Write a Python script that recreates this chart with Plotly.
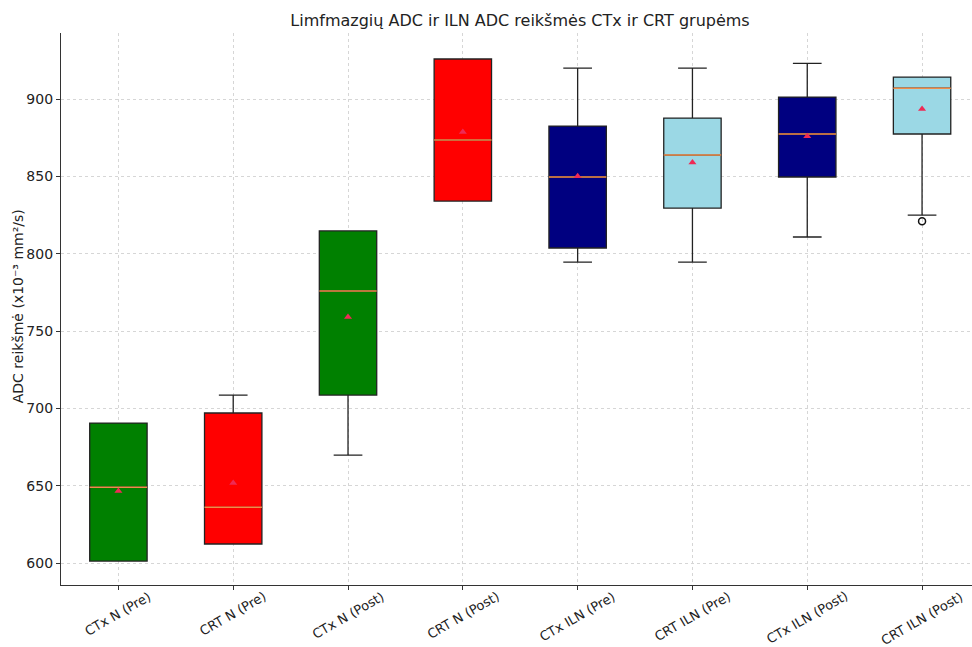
import plotly.graph_objects as go

# Group labels and box statistics (ADC, x10^-3 mm^2/s)
categories = ["CTx N (Pre)", "CRT N (Pre)", "CTx N (Post)", "CRT N (Post)",
              "CTx ILN (Pre)", "CRT ILN (Pre)", "CTx ILN (Post)", "CRT ILN (Post)"]
q1_vals = [601.3, 612.3, 708.6, 834.0, 803.7, 829.5, 849.6, 877.4]
median_vals = [649.0, 636.0, 775.9, 873.5, 849.6, 863.8, 877.4, 907.0]
q3_vals = [690.5, 697.0, 814.7, 925.9, 882.5, 887.7, 901.3, 914.2]
low_whisker = [601.3, 612.3, 669.8, 834.0, 794.6, 794.6, 810.8, 825.0]
high_whisker = [690.5, 708.6, 814.7, 925.9, 920.0, 920.0, 923.0, 914.2]
mean_vals = [646.6, 651.7, 759.0, 878.7, 850.0, 859.0, 876.0, 893.5]
outliers = {"CRT ILN (Post)": [821.0]}
box_colors = ["#008000", "#ff0000", "#008000", "#ff0000",
              "#000080", "#9bd8e5", "#000080", "#9bd8e5"]
y_ticks = [600, 650, 700, 750, 800, 850, 900]

positions = list(range(1, len(categories) + 1))
BOX_W = 0.5

fig = go.Figure()

for pos, name, q1, med, q3, lo, hi, col in zip(positions, categories, q1_vals, median_vals,
                                               q3_vals, low_whisker, high_whisker, box_colors):
    fig.add_trace(go.Box(
        x=[pos], q1=[q1], median=[med], q3=[q3],
        lowerfence=[lo], upperfence=[hi],
        width=BOX_W, whiskerwidth=0.5,
        fillcolor=col, line=dict(color="#222222", width=1.3),
        boxpoints=False, name=name, showlegend=False, hoverinfo="skip",
    ))

# Median lines in orange across each box
med_x, med_y = [], []
for pos, med in zip(positions, median_vals):
    med_x += [pos - BOX_W / 2, pos + BOX_W / 2, None]
    med_y += [med, med, None]
fig.add_trace(go.Scatter(x=med_x, y=med_y, mode="lines",
                         line=dict(color="#f08c4a", width=1.5),
                         showlegend=False, hoverinfo="skip"))

# Means as triangles
fig.add_trace(go.Scatter(x=positions, y=mean_vals, mode="markers",
                         marker=dict(symbol="triangle-up", size=7, color="#ee2a55"),
                         showlegend=False))

# Outliers as open circles
out_x, out_y = [], []
for name, vals in outliers.items():
    p = positions[categories.index(name)]
    out_x += [p] * len(vals)
    out_y += vals
fig.add_trace(go.Scatter(x=out_x, y=out_y, mode="markers",
                         marker=dict(symbol="circle-open", size=7,
                                     color="#111111", line=dict(width=1.5)),
                         showlegend=False))

# Rotated category labels centred under each tick
for pos, name in zip(positions, categories):
    fig.add_annotation(x=pos, xref="x", y=0, yref="paper",
                       text=name, showarrow=False, textangle=-30,
                       xanchor="center", yanchor="top", yshift=-1,
                       font=dict(size=13, color="#222222"))

# Y-axis title
fig.add_annotation(x=0, xref="paper", xshift=-43, y=0.505, yref="paper",
                   text="ADC reikšmė (x10⁻³ mm²/s)", showarrow=False, textangle=-90,
                   xanchor="center", yanchor="middle",
                   font=dict(size=14, color="#222222"))

grid_style = dict(showgrid=True, gridcolor="#d6d6d6", griddash="3px,3px", gridwidth=1)

fig.update_layout(
    width=972, height=647,
    margin=dict(l=61, r=0, t=33, b=62),
    paper_bgcolor="white", plot_bgcolor="white",
    font=dict(family="DejaVu Sans", size=14, color="#222222"),
    title=dict(text="Limfmazgių ADC ir ILN ADC reikšmės CTx ir CRT grupėms",
               x=520 / 972, xanchor="center", xref="container",
               y=1 - 20 / 647, yanchor="middle", yref="container",
               font=dict(size=16, color="#222222")),
    xaxis=dict(range=[0.5, 8.435], tickmode="array", tickvals=positions,
               showticklabels=False, automargin=False,
               showline=True, linecolor="#333333", linewidth=1.2,
               ticks="outside", ticklen=4, tickcolor="#333333",
               zeroline=False, **grid_style),
    yaxis=dict(range=[585.8, 942.7], tickmode="array", tickvals=y_ticks,
               automargin=False,
               showline=True, linecolor="#333333", linewidth=1.2,
               ticks="outside", ticklen=4, tickcolor="#333333",
               zeroline=False, tickfont=dict(size=14), **grid_style),
)

fig.write_html("out.html")
